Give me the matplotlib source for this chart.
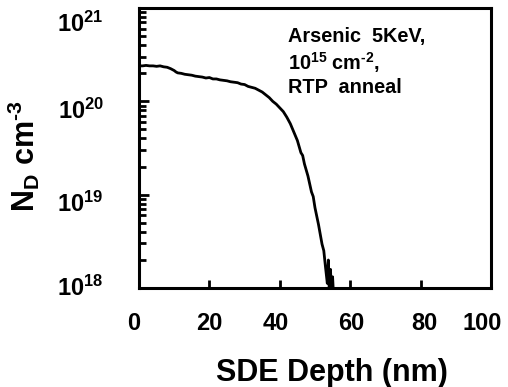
import matplotlib
matplotlib.use("Agg")
import matplotlib.pyplot as plt
from matplotlib.ticker import LogLocator, NullFormatter, FixedLocator
from matplotlib.transforms import offset_copy
import numpy as np

plt.rcParams["font.family"] = "Liberation Sans"
plt.rcParams["font.weight"] = "bold"
plt.rcParams["mathtext.fontset"] = "custom"
plt.rcParams["mathtext.rm"] = "Liberation Sans:bold"
plt.rcParams["mathtext.it"] = "Liberation Sans:bold"
plt.rcParams["mathtext.bf"] = "Liberation Sans:bold"
plt.rcParams["mathtext.default"] = "rm"

# SIMS-like arsenic profile (depth in nm, log10 of N_D)
depth_nm = [0, 1, 2, 3, 4, 5, 6, 7, 8, 9, 10, 10.5, 11, 12, 13, 14, 15, 16, 17,
            18, 19, 20, 21, 22, 23, 24, 25, 26, 27, 28, 29, 30, 31, 32, 33, 34,
            35, 36, 37, 38, 39, 40, 41, 42, 43, 44, 45, 46, 46.5, 47, 48, 49,
            49.5, 50, 51, 52, 52.5, 53, 53.5, 53.8, 54.1, 54.4, 54.7, 55.0,
            55.3, 55.6]
log_nd = [20.38, 20.38, 20.385, 20.38, 20.38, 20.375, 20.38, 20.37, 20.365,
          20.35, 20.33, 20.315, 20.305, 20.30, 20.29, 20.285, 20.28, 20.27,
          20.265, 20.26, 20.25, 20.255, 20.24, 20.24, 20.23, 20.225, 20.22,
          20.21, 20.205, 20.20, 20.185, 20.18, 20.16, 20.15, 20.14, 20.12,
          20.10, 20.07, 20.04, 20.00, 19.97, 19.93, 19.89, 19.83, 19.76,
          19.67, 19.58, 19.45, 19.42, 19.33, 19.20, 19.03, 18.98, 18.86,
          18.68, 18.47, 18.40, 18.22, 18.05, 18.30, 17.90, 18.20, 17.95,
          18.12, 17.90, 17.80]

x_ticks = [0, 20, 40, 60, 80, 100]
# horizontal nudge of each x label (points), as they sit in the source
x_label_shift = [-3.5, 0, -3, 1, 3, -6]
y_decades = [18, 19, 20, 21]
# vertical nudge of each decade label (points)
y_label_shift = [0, -7, -7, -12]
annotation = "Arsenic  5KeV,\n10$^{15}$ cm$^{\\text{-}2}$,\nRTP  anneal"

fig = plt.figure(figsize=(5.08, 3.87), dpi=100)
ax = fig.add_axes([0.2736, 0.2558, 0.6929, 0.7235])

ax.semilogy(depth_nm, 10.0 ** np.array(log_nd), color="black", linewidth=2.0)

ax.set_xlim(0, 100)
ax.set_ylim(1e18, 1e21)

for side in ax.spines.values():
    side.set_linewidth(2.2)

ax.xaxis.set_major_locator(FixedLocator(x_ticks))
ax.xaxis.set_major_formatter(NullFormatter())
ax.yaxis.set_major_locator(FixedLocator([10.0 ** d for d in y_decades]))
ax.yaxis.set_major_formatter(NullFormatter())
ax.yaxis.set_minor_locator(LogLocator(base=10, subs=np.arange(2, 10)))
ax.yaxis.set_minor_formatter(NullFormatter())

ax.tick_params(axis="x", which="major", direction="in", length=6, width=2)
ax.tick_params(axis="y", which="major", direction="in", length=7, width=2)
ax.tick_params(axis="y", which="minor", direction="in", length=5, width=2)

# tick labels drawn by hand so each can sit like the original
xtrans = ax.get_xaxis_transform()
for t, dx in zip(x_ticks, x_label_shift):
    tr = offset_copy(xtrans, fig=fig, x=dx, y=0, units="points")
    ax.text(t, -0.085, str(t), transform=tr, ha="center", va="top",
            fontsize=17, clip_on=False)

ytrans = ax.get_yaxis_transform()
for d, dy in zip(y_decades, y_label_shift):
    tr = offset_copy(ytrans, fig=fig, x=0, y=dy, units="points")
    ax.text(-0.10, 10.0 ** d, r"$10^{%d}$" % d, transform=tr, ha="right",
            va="center", fontsize=17, clip_on=False)

ax.set_xlabel("SDE Depth (nm)", fontsize=22, fontweight="bold")
ax.xaxis.set_label_coords(0.547, -0.25)
ax.set_ylabel("N$_D$ cm$^{\\text{-}3}$", fontsize=22, fontweight="bold")
ax.yaxis.set_label_coords(-0.276, 0.47)

ax.text(0.423, 0.932, annotation, transform=ax.transAxes, ha="left", va="top",
        fontsize=14.3, fontweight="bold", linespacing=1.2)

fig.savefig("out.png", dpi=100)
